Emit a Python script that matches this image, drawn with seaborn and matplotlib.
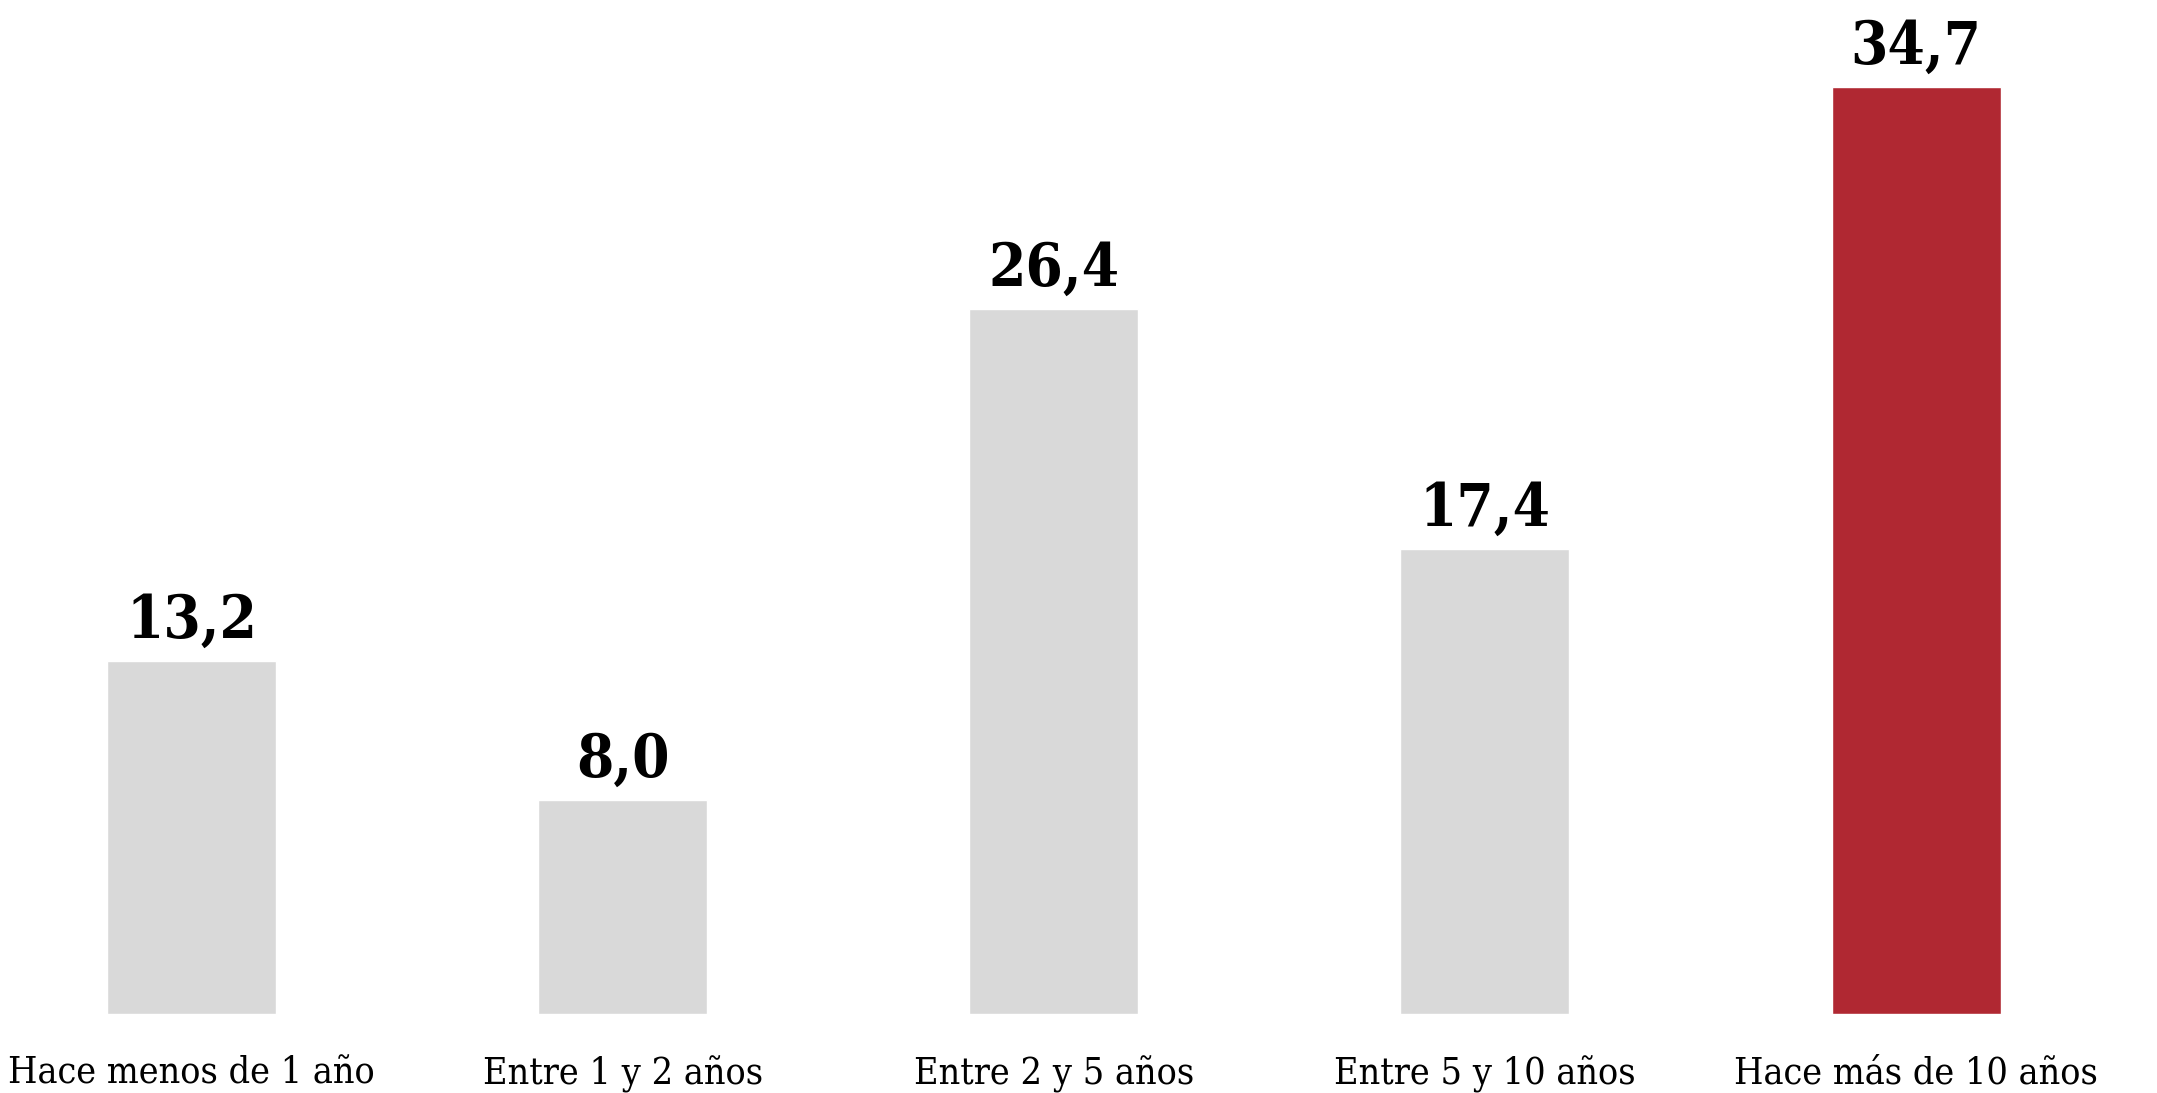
import matplotlib
matplotlib.use("Agg")
import matplotlib.pyplot as plt
import seaborn as sns
import pandas as pd

categories = ["Hace menos de 1 año", "Entre 1 y 2 años", "Entre 2 y 5 años",
              "Entre 5 y 10 años", "Hace más de 10 años"]
values = [13.2, 8.0, 26.4, 17.4, 34.7]
highlight = "Hace más de 10 años"

GRAY = "#D9D9D9"
RED = "#B02832"

sns.set_theme(style="white")
plt.rcParams["font.family"] = ["DejaVu Serif"]
plt.rcParams["font.stretch"] = "condensed"

df = pd.DataFrame({"cat": categories, "val": values})
palette = {c: (RED if c == highlight else GRAY) for c in categories}

W, H, DPI = 2157, 1093, 100
fig = plt.figure(figsize=(W / DPI, H / DPI), dpi=DPI)
base = 79.2
ax = fig.add_axes([0, base / H, 1, 1 - base / H])

sns.barplot(data=df, x="cat", y="val", hue="cat", palette=palette,
            legend=False, width=0.392, saturation=1, ax=ax)

ax.set_xlim(-0.445, 4.559)
ax.set_ylim(0, 37.97)

for cont in ax.containers:
    ax.bar_label(cont, labels=[f"{v:.1f}".replace(".", ",") for v in cont.datavalues],
                 padding=8, fontsize=43, fontweight="bold", fontstretch="condensed",
                 color="black")

ax.set_xlabel("")
ax.set_ylabel("")
ax.set_yticks([])
ax.tick_params(axis="x", length=0, pad=30, labelsize=27, labelcolor="black")
for lab in ax.get_xticklabels():
    lab.set_fontstretch("condensed")
for s in ax.spines.values():
    s.set_visible(False)

fig.savefig("out.png", dpi=DPI, facecolor="white")
